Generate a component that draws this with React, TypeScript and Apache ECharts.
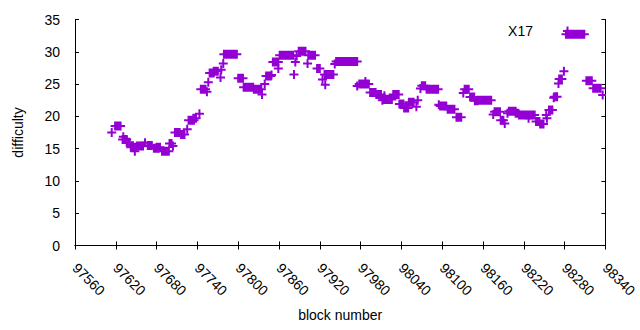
import React, { useEffect, useRef } from "react";
import * as echarts from "echarts";

// Runs of consecutive blocks sharing one difficulty (start block, end block, difficulty)
const runStart = [97619, 97630, 97636, 97642, 97651, 97667, 97676, 97680, 97688, 97699, 97707, 97716, 97727, 97734, 97745, 97758, 97764, 97779, 97800, 97808, 97823, 97841, 97851, 97861, 97889, 97903, 97916, 97927, 97944, 97978, 97994, 98003, 98014, 98028, 98037, 98044, 98051, 98070, 98077, 98097, 98108, 98121, 98133, 98141, 98148, 98152, 98177, 98186, 98198, 98208, 98213, 98238, 98244, 98257, 98265, 98272, 98282, 98312, 98322];
const runEnd = [97627, 97636, 97640, 97650, 97660, 97673, 97683, 97685, 97698, 97702, 97714, 97721, 97735, 97738, 97752, 97764, 97770, 97798, 97807, 97822, 97834, 97848, 97859, 97881, 97899, 97913, 97920, 97940, 97975, 97992, 98002, 98010, 98026, 98036, 98043, 98050, 98058, 98075, 98094, 98106, 98118, 98128, 98139, 98147, 98152, 98172, 98185, 98190, 98208, 98212, 98236, 98243, 98249, 98262, 98269, 98276, 98309, 98320, 98333];
const runDiff = [18.5, 16.4, 16.0, 15.2, 15.4, 15.5, 15.05, 15.2, 14.6, 15.8, 17.5, 17.2, 19.4, 19.7, 24.2, 26.7, 27.0, 29.6, 25.9, 24.5, 24.2, 26.25, 28.4, 29.45, 30.1, 29.45, 27.4, 26.5, 28.5, 25.0, 23.7, 23.4, 22.6, 23.4, 21.9, 21.3, 22.2, 24.75, 24.2, 21.6, 21.1, 19.85, 24.2, 23.0, 22.4, 22.5, 20.7, 19.4, 20.8, 20.5, 20.2, 19.2, 18.8, 21.0, 23.05, 25.8, 32.7, 25.5, 24.35];

// Isolated blocks
const pointBlock = [97614, 97631, 97648, 97663, 97704, 97725, 97743, 97754, 97756, 97774, 97775, 97778, 97835, 97839, 97849, 97859, 97882, 97884, 97886, 97902, 97924, 97928, 97942, 97975, 97987, 98012, 98015, 98062, 98064, 98068, 98095, 98131, 98175, 98192, 98196, 98227, 98253, 98254, 98264, 98271, 98279, 98336];
const pointDiff = [17.5, 16.85, 14.6, 15.9, 15.4, 18.0, 20.4, 23.8, 25.3, 26.0, 27.2, 28.2, 23.4, 25.0, 26.4, 27.4, 26.5, 28.4, 29.35, 28.2, 25.7, 24.9, 28.1, 24.7, 25.4, 22.5, 23.2, 21.5, 22.5, 24.3, 21.8, 23.6, 20.3, 18.9, 20.5, 19.7, 20.2, 19.7, 22.9, 25.1, 27.0, 23.3];

const seriesName = "X17";
const xTitle = "block number";
const yTitle = "difficulty";
const xMin = 97560;
const xMax = 98340;
const xStep = 60;
const yMin = 0;
const yMax = 35;
const yStep = 5;

const COLOR = "#9400d3";
const FONT = "'Liberation Sans', Arial, sans-serif";

export default function App() {
  const ref = useRef<HTMLDivElement>(null);
  useEffect(() => {
    if (!ref.current) return;
    const chart = echarts.init(ref.current, null, { renderer: "svg" });
    const data: number[][] = [];
    runStart.forEach((s, i) => data.push([s, runEnd[i], runDiff[i]]));
    pointBlock.forEach((b, i) => data.push([b, b, pointDiff[i]]));

    const axisCommon = {
      axisLine: { show: true, lineStyle: { color: "#000", width: 1 } },
      splitLine: { show: false },
    };

    chart.setOption({
      animation: false,
      textStyle: { fontFamily: FONT },
      grid: { left: 75, right: 31, top: 19.5, bottom: 84.5, containLabel: false },
      legend: {
        show: true,
        right: 68,
        top: 24,
        padding: 0,
        align: "right",
        itemWidth: 9,
        itemHeight: 9,
        data: [
          {
            name: seriesName,
            icon: "path://M0,3.5 L9,3.5 L9,5.5 L0,5.5 Z M3.5,0 L5.5,0 L5.5,9 L3.5,9 Z",
          },
        ],
        textStyle: { fontSize: 14, color: "#000", fontFamily: FONT, padding: [0, 25, 0, 0] },
      },
      xAxis: [
        {
          type: "value",
          min: xMin,
          max: xMax,
          interval: xStep,
          position: "bottom",
          name: xTitle,
          nameLocation: "middle",
          nameGap: 62,
          nameTextStyle: { fontSize: 14, color: "#000", fontFamily: FONT },
          ...axisCommon,
          axisTick: { show: true, inside: true, length: 4, lineStyle: { color: "#000" } },
          axisLabel: {
            show: true,
            rotate: -45,
            margin: 20,
            fontSize: 14,
            color: "#000",
            fontFamily: FONT,
            formatter: (v: number) => String(v),
          },
        },
        {
          type: "value",
          min: xMin,
          max: xMax,
          interval: xStep,
          position: "top",
          ...axisCommon,
          axisTick: { show: true, inside: true, length: 4, lineStyle: { color: "#000" } },
          axisLabel: { show: false },
        },
      ],
      yAxis: [
        {
          type: "value",
          min: yMin,
          max: yMax,
          interval: yStep,
          position: "left",
          name: yTitle,
          nameLocation: "middle",
          nameRotate: 90,
          nameGap: 50,
          nameTextStyle: { fontSize: 14, color: "#000", fontFamily: FONT },
          ...axisCommon,
          axisTick: { show: true, inside: true, length: 4, lineStyle: { color: "#000" } },
          axisLabel: { show: true, margin: 15, fontSize: 14, color: "#000", fontFamily: FONT },
        },
        {
          type: "value",
          min: yMin,
          max: yMax,
          interval: yStep,
          position: "right",
          ...axisCommon,
          axisTick: { show: true, inside: true, length: 4, lineStyle: { color: "#000" } },
          axisLabel: { show: false },
        },
      ],
      series: [
        {
          name: seriesName,
          type: "custom",
          xAxisIndex: 0,
          yAxisIndex: 0,
          color: COLOR,
          itemStyle: { color: COLOR },
          clip: true,
          encode: { x: [0, 1], y: 2 },
          data,
          renderItem: (params: any, api: any) => {
            const s = api.coord([api.value(0), api.value(2)]);
            const e = api.coord([api.value(1), api.value(2)]);
            return {
              type: "group",
              children: [
                {
                  type: "rect",
                  shape: { x: s[0] - 1, y: s[1] - 4.5, width: e[0] - s[0] + 2, height: 9 },
                  style: { fill: COLOR },
                },
                {
                  type: "rect",
                  shape: { x: s[0] - 4.5, y: s[1] - 1, width: e[0] - s[0] + 9, height: 2 },
                  style: { fill: COLOR },
                },
              ],
            };
          },
        },
      ],
    });
    return () => chart.dispose();
  }, []);
  return <div ref={ref} style={{ width: 640, height: 330, position: "absolute", left: 0, top: 0 }} />;
}
